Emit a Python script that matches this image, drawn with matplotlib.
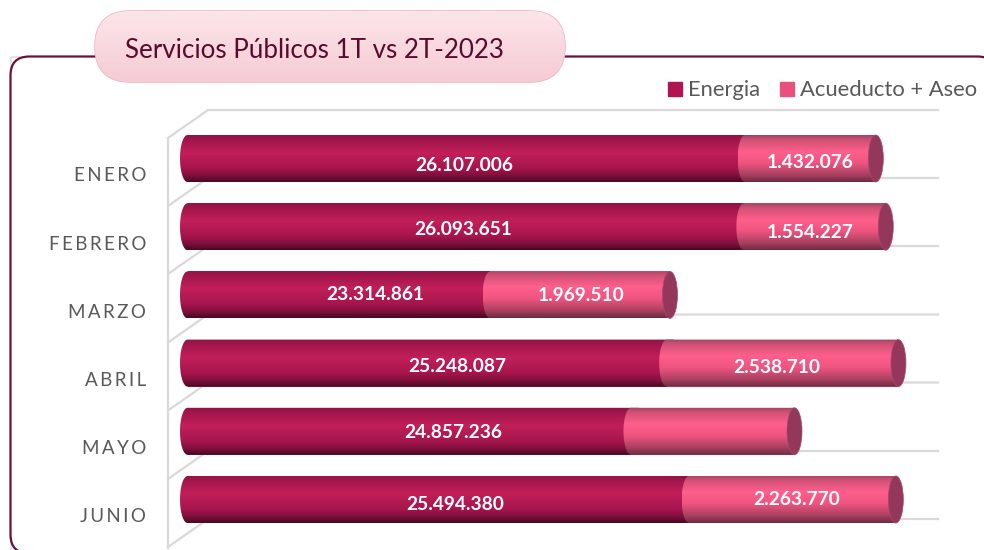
#!/usr/bin/env python
# Servicios Publicos 1T vs 2T-2023 - stacked cylinder bars
import numpy as np
import matplotlib
matplotlib.use("Agg")
import matplotlib.pyplot as plt
from matplotlib.colors import LinearSegmentedColormap
from matplotlib.patches import Ellipse, FancyBboxPatch, Patch, PathPatch, Rectangle
from matplotlib.path import Path
from matplotlib.transforms import ScaledTranslation

plt.rcParams['font.family'] = ['Lato', 'DejaVu Sans']

# data
meses = ['ENERO', 'FEBRERO', 'MARZO', 'ABRIL', 'MAYO', 'JUNIO']
energia = [26107006, 26093651, 23314861, 25248087, 24857236, 25494380]
acueducto = [1432076, 1554227, 1969510, 2538710, 1791000, 2263770]
acueducto_texto = ['1.432.076', '1.554.227', '1.969.510', '2.538.710', '', '2.263.770']
energia_texto = ['26.107.006', '26.093.651', '23.314.861', '25.248.087', '24.857.236', '25.494.380']
eje_min = 20000000

# layout, all in pixels of the 984x550 picture
W, H = 984, 550
px_x0 = 187.5     # where eje_min falls
px_per_unit = 91.3 / 1e6
px_y0 = 158.5     # centre of first bar
px_pitch = 68.2
px_bar = 47
px_cap = 7.5      # half width of the cylinder ends
ax_left = 150
ax_top = 90

fig = plt.figure(figsize=(W / 100, H / 100), dpi=100, facecolor='white')

# background layer in pixel coordinates
bg = fig.add_axes([0, 0, 1, 1], zorder=0)
bg.set_xlim(0, W)
bg.set_ylim(H, 0)
bg.axis('off')

# outer frame, runs off the right and bottom of the picture
bg.add_patch(Rectangle((10.5, 56.5), 1000, 700, fc='none', ec='#dedede', lw=1.2, zorder=0.5))
bg.add_patch(FancyBboxPatch((10.5, 56.5), 986, 497, boxstyle="round,pad=0,rounding_size=19",
                            fc='white', ec='#6b1038', lw=1.6, zorder=1))

# fake 3d walls and grid
gris = '#d9d9d9'
for y in [110, 178, 246, 314.5, 382.5, 451, 519]:
    bg.plot([168, 208, 938], [y + 28, y, y], color=gris, lw=1.6, zorder=2, solid_joinstyle='miter')
bg.plot([168, 168], [138, 548], color=gris, lw=1.6, zorder=2)

# title pill with soft gradient
pill = FancyBboxPatch((95, 11), 470, 71, boxstyle="round,pad=0,rounding_size=35.5",
                      fc='#f8d8de', ec='#f5b5c2', lw=1.2, zorder=3)
bg.add_patch(pill)
grad_pill = LinearSegmentedColormap.from_list('pill', ['#fce6ea', '#f5cbd4'])
im = bg.imshow(np.linspace(0, 1, 64).reshape(-1, 1), extent=(95, 565, 82, 11), cmap=grad_pill,
               aspect='auto', zorder=3.1)
im.set_clip_path(pill)
bg.set_xlim(0, W)
bg.set_ylim(H, 0)
bg.text(125, 50.5, 'Servicios Públicos 1T vs 2T-2023', color='#5a0a2e', fontsize=18.7,
        va='center', ha='left', zorder=4)

# chart axes, scale set so that the bars land where they do in the picture
ax = fig.add_axes([ax_left / W, 0, (W - ax_left) / W, 1 - ax_top / H], zorder=2)
ax.patch.set_alpha(0)

cmap_e = LinearSegmentedColormap.from_list('e', [(0, '#8f1343'), (0.12, '#a3164c'), (0.38, '#c21f5a'),
                                                (0.72, '#a5154d'), (0.88, '#7a0f3a'), (1, '#470823')])
cmap_a = LinearSegmentedColormap.from_list('a', [(0, '#a04561'), (0.1, '#cf5076'), (0.35, '#ff5f8c'),
                                                (0.6, '#ee5480'), (0.85, '#a8405f'), (1, '#6e2a42')])
grad = np.linspace(0, 1, 128).reshape(-1, 1)
alto = px_bar / px_pitch
cap = px_cap / px_per_unit


def barra(y, left, width, color, cmap, z):
    # plain bar from the library, shaded with a gradient clipped to a rounded-left outline
    ax.barh(y, width, left=left, height=alto, color=color, zorder=z)
    t = np.linspace(np.pi / 2, 3 * np.pi / 2, 30)
    xs = np.r_[left + width, left + cap * np.cos(t), left + width, left + width]
    ys = np.r_[y - alto / 2, y - alto / 2 * np.sin(t), y + alto / 2, y - alto / 2]
    forma = PathPatch(Path(np.c_[xs, ys]), transform=ax.transData, fc='none', ec='none')
    ax.add_patch(forma)
    g = ax.imshow(grad, extent=(left - cap, left + width, y + alto / 2, y - alto / 2), cmap=cmap,
                  aspect='auto', zorder=z + 0.1)
    g.set_clip_path(forma)


for i, mes in enumerate(meses):
    barra(i, eje_min, energia[i] - eje_min + cap, '#ae1552', cmap_e, 3)
    barra(i, energia[i], acueducto[i], '#e8507e', cmap_a, 4)
    ax.add_patch(Ellipse((energia[i] + acueducto[i], i), 2 * cap, alto, fc='#93385a', ec='#a8486a',
                         lw=0.5, zorder=5))

# the imshow calls move the limits, so set them last
ax.set_xlim(eje_min + (ax_left - px_x0) / px_per_unit, eje_min + (W - px_x0) / px_per_unit)
ax.set_ylim((H - px_y0) / px_pitch, (ax_top - px_y0) / px_pitch)

# value labels, the picture has them nudged by hand (x, y in px)
shift_e = [(-2, 7), (-2, 3), (36, 0), (30, 3), (44, 1), (17, 5)]
shift_a = [(0, 4), (-5, 6), (1, 1), (-6, 4), (0, 0), (4, 0)]
for i in range(len(meses)):
    ax.annotate(energia_texto[i], ((eje_min + energia[i]) / 2, i),
                xytext=(shift_e[i][0] * 0.72, -shift_e[i][1] * 0.72), textcoords='offset points',
                color='white', fontsize=13.8, fontweight='bold', ha='center', va='center', zorder=6)
    if acueducto_texto[i]:
        ax.annotate(acueducto_texto[i], (energia[i] + acueducto[i] / 2, i),
                    xytext=(shift_a[i][0] * 0.72, -shift_a[i][1] * 0.72), textcoords='offset points',
                    color='white', fontsize=13.8, fontweight='bold', ha='center', va='center', zorder=6)

# category labels sit lower than the bars, letters spaced out
ax.set_yticks(range(len(meses)))
ax.set_yticklabels(['\u2009'.join(m) for m in meses], color='#595959', fontsize=13.5)
ax.tick_params(axis='y', length=0, pad=3 * 0.72)
ax.set_xticks([])
for lab in ax.get_yticklabels():
    lab.set_transform(lab.get_transform() + ScaledTranslation(-1 / 100, -16 / 100, fig.dpi_scale_trans))
for s in ax.spines.values():
    s.set_visible(False)

# legend
fig.legend(handles=[Patch(color='#ae1552', label='Energia'), Patch(color='#e8507e', label='Acueducto + Aseo')],
           loc='center right', bbox_to_anchor=(977 / W, 1 - 90.5 / H), ncol=2, frameon=False, fontsize=15.8,
           labelcolor='#595959', handlelength=0.64, handleheight=0.64, handletextpad=0.28,
           columnspacing=0.88, borderpad=0, borderaxespad=0)

fig.savefig('out.png', dpi=100)
